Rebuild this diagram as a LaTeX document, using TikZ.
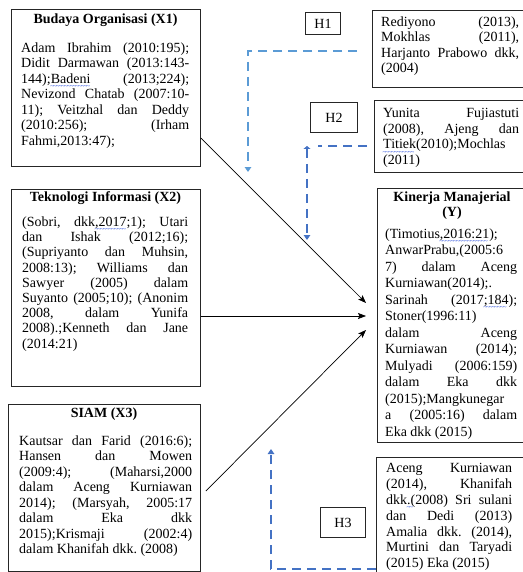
\documentclass[tikz,border=0pt]{standalone}
\usepackage{fontspec}
\setmainfont{Liberation Serif}
\usetikzlibrary{arrows.meta}
\definecolor{hone}{HTML}{5B9BD5}
\definecolor{htwo}{HTML}{4472C4}
\definecolor{spell}{HTML}{3355DD}
\newlength\lw
\newcommand\jl[1]{\hbox to\lw{#1}}
\newcommand\lastl[1]{\hbox to\lw{#1\hfil}}
\newcommand\tblock[2]{\lw=#1\relax\vbox{#2}}
\newsavebox\sqbox
\newcommand\sq[1]{\sbox\sqbox{#1}\rlap{\color{spell}\lower5.4pt\hbox to\wd\sqbox{\fontsize{7}{7}\selectfont\leaders\hbox{\kern-0.5pt\char"7E\kern-0.5pt}\hfill}}\usebox\sqbox}
\begin{document}
\begin{tikzpicture}[x=1pt,y=-1pt,
  box/.style={draw=black!85, line width=0.9pt, inner sep=0pt, anchor=north west},
  hlab/.style={box, font=\fontsize{14}{16}\selectfont},
  txt/.style={inner sep=0pt, anchor=north west, font=\fontsize{14}{15.5}\selectfont\frenchspacing},
  ttl/.style={inner sep=0pt, font=\bfseries\fontsize{14}{15.5}\selectfont},
  arr/.style={-{Stealth[length=8pt,width=6pt,inset=1.5pt]}, line width=0.7pt},
  dsh/.style={dash pattern=on 9pt off 6pt, line width=1.9pt},
  dtip/.style={-{Triangle[width=6.5pt,length=5pt]}}
]
\useasboundingbox (0,0) rectangle (522,572);
\fill[white] (0,0) rectangle (522,572);

% left boxes
\node[box, minimum width=189pt, minimum height=157pt] (x1) at (11,9) {};
\node[box, minimum width=189pt, minimum height=197pt] (x2) at (11,189) {};
\node[box, minimum width=192pt, minimum height=167pt] (x3) at (8,404) {};

% right boxes
\node[box, minimum width=159pt, minimum height=77pt] (r1) at (372,10) {};
\node[box, minimum width=157pt, minimum height=72pt] (r2) at (374,100) {};
\node[box, minimum width=154pt, minimum height=254pt] (ky) at (377,188) {};
\node[box, minimum width=155pt, minimum height=125pt] (r3) at (376,457) {};

% hypothesis labels
\node[hlab, minimum width=35pt, minimum height=22pt] (h1) at (305,12) {H1};
\node[hlab, minimum width=47pt, minimum height=30pt] (h2) at (310,102) {H2};
\node[hlab, minimum width=45pt, minimum height=30pt] (h3) at (320,507) {H3};

% titles
\node[ttl] (x1t) at (105.5,20) {Budaya Organisasi (X1)};
\node[ttl] (x2t) at (105.5,198) {Teknologi Informasi (X2)};
\node[ttl] (x3t) at (104,414) {SIAM (X3)};
\node[ttl, align=center] (kyt) at (452,205.5) {Kinerja Manajerial\\(Y)};

% texts
\node[txt] (x1b) at (21,42.5) {\tblock{168pt}{%
\jl{Adam Ibrahim (2010:195);}%
\jl{Didit Darmawan (2013:143-}%
\jl{144);\sq{Badeni} (2013;224);}%
\jl{Nevizond Chatab (2007:10-}%
\jl{11); Veitzhal dan Deddy}%
\jl{(2010:256); (Irham}%
\lastl{Fahmi,2013:47);}}};

\node[txt, font=\fontsize{14}{15.2}\selectfont\frenchspacing] (x2b) at (22,216.5) {\tblock{166pt}{%
\jl{(Sobri, dkk\sq{,2017};1); Utari}%
\jl{dan Ishak (2012;16);}%
\jl{(Supriyanto dan Muhsin,}%
\jl{2008:13); Williams dan}%
\jl{Sawyer (2005) dalam}%
\jl{Suyanto (2005;10); (Anonim}%
\jl{2008, dalam Yunifa}%
\jl{2008).;Kenneth dan Jane}%
\lastl{(2014:21)}}};

\node[txt] (x3b) at (19,435.5) {\tblock{173pt}{%
\jl{Kautsar dan Farid (2016:6);}%
\jl{Hansen dan Mowen}%
\jl{(2009:4); (Maharsi,2000}%
\jl{dalam Aceng Kurniawan}%
\jl{2014); (Marsyah, 2005:17}%
\jl{dalam Eka dkk}%
\jl{2015);Krismaji (2002:4)}%
\lastl{dalam Khanifah dkk. (2008)}}};

\node[txt] (r1b) at (381,16.5) {\tblock{138pt}{%
\jl{Rediyono (2013),}%
\jl{Mokhlas (2011),}%
\jl{Harjanto Prabowo dkk,}%
\lastl{(2004)}}};

\node[txt] (r2b) at (383,108.5) {\tblock{136pt}{%
\jl{Yunita Fujiastuti}%
\jl{(2008), Ajeng dan}%
\lastl{\sq{Titiek}(2010);Mochlas}%
\lastl{(2011)}}};

\node[txt, font=\fontsize{14}{16.5}\selectfont\frenchspacing] (kyb) at (385,228.5) {\tblock{132pt}{%
\lastl{(Timotius\sq{,2016:21});}%
\lastl{AnwarPrabu,(2005:6}%
\jl{7) dalam Aceng}%
\lastl{Kurniawan(2014);.}%
\jl{Sarinah (2017\sq{;184});}%
\lastl{Stoner(1996:11)}%
\jl{dalam Aceng}%
\jl{Kurniawan (2014);}%
\jl{Mulyadi (2006:159)}%
\jl{dalam Eka dkk}%
\lastl{(2015);Mangkunegar}%
\jl{a (2005:16) dalam}%
\lastl{Eka dkk (2015)}}};

\node[txt, font=\fontsize{14}{15.8}\selectfont\frenchspacing] (r3b) at (386,463.5) {\tblock{126pt}{%
\jl{Aceng Kurniawan}%
\jl{(2014), Khanifah}%
\jl{dkk\sq{.(}2008) Sri sulani}%
\jl{dan Dedi (2013)}%
\jl{Amalia dkk. (2014),}%
\jl{Murtini dan Taryadi}%
\lastl{(2015) Eka (2015)}}};

% solid arrows
\draw[arr] ([yshift=-129pt]x1.north east) -- ([xshift=-11pt,yshift=-115pt]ky.north west);
\draw[arr] ([yshift=-127pt]x2.north east) -- ([xshift=-11pt,yshift=-128pt]ky.north west);
\draw[arr] ([xshift=5pt,yshift=-87pt]x3.north east) -- ([xshift=-11pt,yshift=-142pt]ky.north west);

% dashed hypothesis connectors
\coordinate (h1a) at (357,51);
\coordinate (h1b) at (248,51);
\coordinate (h1c) at (248,172);
\draw[dsh, hone, dtip] (h1a) -- (h1b) -- (h1c);

\coordinate (h2a) at (367,146);
\coordinate (h2b) at (318,146);
\coordinate (h2c) at (307,146);
\coordinate (h2d) at (307,240);
\draw[dsh, htwo] (h2a) -- (h2b);
\draw[dsh, htwo, {Triangle[width=7pt,length=3pt]}-{Triangle[width=6.5pt,length=5pt]}] (h2c) -- (h2d);

\coordinate (h3a) at (376,569);
\coordinate (h3b) at (271,569);
\coordinate (h3c) at (271,449);
\draw[dsh, htwo, dtip] (h3a) -- (h3b) -- (h3c);
\end{tikzpicture}
\end{document}
